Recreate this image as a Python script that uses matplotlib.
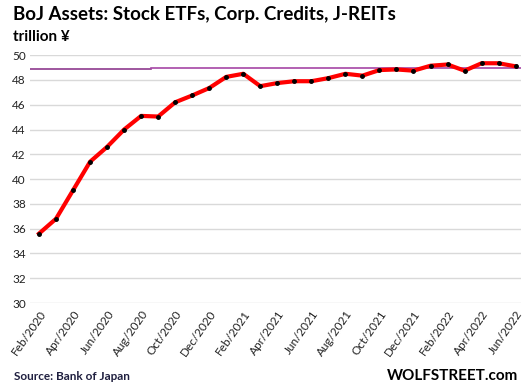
import matplotlib.pyplot as plt
import pandas as pd

plt.rcParams["font.family"] = ["Lato", "DejaVu Sans"]

months = pd.date_range("2020-02-01", "2022-06-01", freq="MS")
assets = [35.6, 36.8, 39.1, 41.4, 42.6, 44.0, 45.1, 45.05, 46.2, 46.75, 47.35,
          48.25, 48.5, 47.5, 47.75, 47.9, 47.9, 48.15, 48.5, 48.35, 48.8,
          48.85, 48.75, 49.15, 49.25, 48.75, 49.35, 49.35, 49.1]
tick_labels = [m.strftime("%b/%Y") for m in months[::2]]

# purple reference line: two levels, step between Aug and Sep 2020
ref1_x, ref1_y = [-0.55, 6.56], [48.85, 48.85]
ref2_x, ref2_y = [6.56, 28.3], [48.93, 48.93]

x = list(range(len(months)))

fig = plt.figure(figsize=(5.26, 3.86), dpi=100)
ax = fig.add_axes([0.057, 0.215, 0.933, 0.642])

ax.plot(ref1_x, ref1_y, color="#8E3A8E", lw=1.2, zorder=2)
ax.plot(ref2_x, ref2_y, color="#A645A6", lw=1.2, zorder=2)
ax.plot(x, assets, color="red", lw=3, zorder=3)
ax.plot(x, assets, "o", color="black", ms=2.5, zorder=4)

ax.set_ylim(30, 50)
ax.set_yticks(range(30, 51, 2))
ax.set_xlim(-0.53, 28.3)
ax.set_xticks(x[::2])
ax.set_xticklabels(tick_labels, rotation=55, ha="right", rotation_mode="anchor")
ax.yaxis.grid(True, color="#d9d9d9", lw=1)
ax.set_axisbelow(True)
for s in ax.spines.values():
    s.set_visible(False)
ax.tick_params(length=0, labelsize=8.5, colors="#222222", pad=3)
ax.tick_params(axis="x", pad=4)

fig.text(0.025, 0.962, "BoJ Assets: Stock ETFs, Corp. Credits, J-REITs",
         fontsize=13.5, fontweight="bold", va="center")
fig.text(0.025, 0.903, "trillion ¥", fontsize=11, fontweight="bold", va="center")
fig.text(0.027, 0.025, "Source: Bank of Japan", fontsize=8.5, fontweight="bold",
         va="center", color="#1f1f3f")
fig.text(0.985, 0.025, "WOLFSTREET.com", fontsize=11, fontweight="bold",
         va="center", ha="right")

plt.savefig("out.png")
